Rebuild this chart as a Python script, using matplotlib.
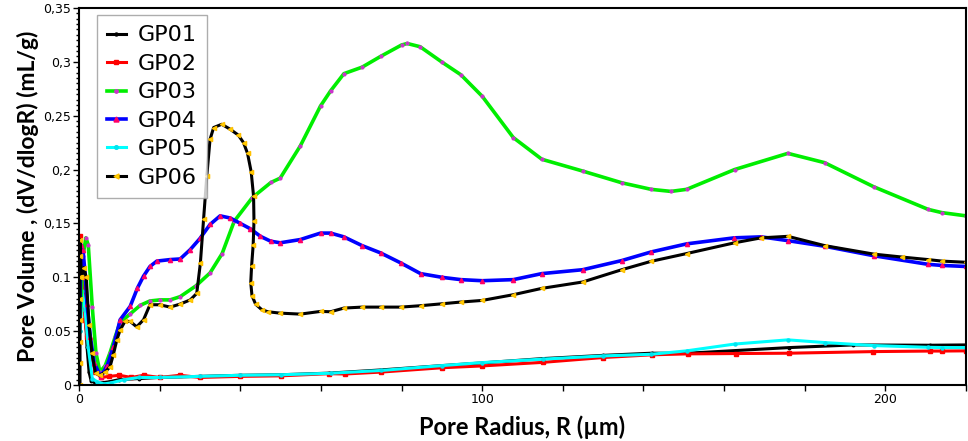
import numpy as np
import matplotlib
matplotlib.use("Agg")
import matplotlib.pyplot as plt
from matplotlib.ticker import FixedLocator, MultipleLocator

# digitised pore size distributions (x: pore radius in um, y: dV/dlogR in mL/g)
gp01_x = [0.2, 0.6, 1.0, 1.5, 2.0, 2.5, 3.0, 4.0, 5.5, 7.5, 10, 15, 20, 30, 40, 50, 62,
          75, 90, 100, 115, 130, 142, 151, 163, 176, 192, 211, 220]
gp01_y = [0.05, 0.1, 0.095, 0.07, 0.035, 0.012, 0.004, 0.002, 0.002, 0.003, 0.005, 0.006,
          0.007, 0.008, 0.009, 0.0095, 0.011, 0.014, 0.018, 0.0205, 0.0245, 0.0275, 0.0295,
          0.0295, 0.032, 0.0347, 0.0372, 0.0369, 0.0372]

gp02_x = [0.1, 0.3, 0.6, 1.0, 1.5, 2.0, 2.5, 3.2, 4.0, 5.5, 7.5, 10, 13, 16, 20, 25, 30,
          40, 50, 62, 66, 75, 90, 100, 115, 130, 142, 151, 163, 176, 197, 211, 214, 220]
gp02_y = [0.02, 0.138, 0.12, 0.09, 0.06, 0.045, 0.04, 0.025, 0.012, 0.007, 0.008, 0.009,
          0.007, 0.009, 0.007, 0.009, 0.007, 0.008, 0.0085, 0.0105, 0.0102, 0.012, 0.016,
          0.0177, 0.021, 0.0255, 0.028, 0.0289, 0.0292, 0.0295, 0.031, 0.0315, 0.0315, 0.0317]

gp03_x = [0.3, 1.0, 1.7, 2.3, 3.3, 4.2, 5.2, 6.5, 7.7, 9, 10.2, 12.7, 15.2, 17.6, 20.1,
          22.6, 25.1, 29, 32.5, 35.5, 38.5, 43, 47.6, 49.9, 54.9, 59.9, 62.4, 65.7, 70.2,
          74.8, 80, 81.4, 84.6, 90.1, 94.7, 100, 107.7, 114.8, 124.9, 134.6, 141.9, 146.8,
          150.7, 162.6, 175.8, 184.9, 197.1, 210.6, 214, 220]
gp03_y = [0.06, 0.12, 0.1366, 0.13, 0.072, 0.03, 0.012, 0.018, 0.03, 0.045, 0.058, 0.066,
          0.074, 0.078, 0.079, 0.079, 0.082, 0.092, 0.104, 0.122, 0.152, 0.174, 0.188, 0.192,
          0.222, 0.259, 0.273, 0.289, 0.295, 0.305, 0.3156, 0.317, 0.314, 0.2995, 0.288,
          0.268, 0.2297, 0.2095, 0.1986, 0.1877, 0.1816, 0.1797, 0.1816, 0.200, 0.215,
          0.2064, 0.184, 0.163, 0.16, 0.157]

gp04_x = [0.2, 0.5, 1.0, 1.6, 2.0, 2.8, 3.8, 5.4, 7.0, 8.5, 10.2, 12.7, 14.5, 16, 17.6,
          19.3, 22.6, 25.1, 27.6, 30, 32.5, 35, 37.5, 40, 42.5, 45, 47.5, 49.9, 54.9, 59.9,
          62.4, 65.7, 70.2, 74.8, 79.8, 84.7, 90.1, 94.7, 100, 107.7, 114.8, 124.9, 134.6,
          141.9, 150.7, 162.5, 169.2, 175.8, 184.9, 197.1, 210.6, 214, 220]
gp04_y = [0.06, 0.13, 0.125, 0.1, 0.075, 0.045, 0.02, 0.0078, 0.018, 0.035, 0.0605, 0.073,
          0.09, 0.101, 0.11, 0.115, 0.1164, 0.117, 0.1257, 0.136, 0.149, 0.157, 0.155, 0.150,
          0.145, 0.138, 0.1335, 0.132, 0.135, 0.141, 0.141, 0.1375, 0.1294, 0.1226, 0.1133,
          0.1034, 0.0999, 0.0978, 0.0968, 0.0978, 0.1034, 0.107, 0.1155, 0.1235, 0.131,
          0.1366, 0.1375, 0.134, 0.1288, 0.120, 0.112, 0.111, 0.110]

gp05_x = [0.3, 0.8, 1.5, 2.3, 3.3, 4.5, 6.2, 8, 11.2, 15, 20, 30, 40, 50, 62.4, 75, 90,
          100, 115, 130, 141.9, 150.7, 162.6, 175.8, 184.9, 197.1, 210.6, 214, 220]
gp05_y = [0.05, 0.087, 0.07, 0.035, 0.006, 0.003, 0.001, 0.002, 0.005, 0.007, 0.007, 0.008,
          0.009, 0.0095, 0.0109, 0.0135, 0.018, 0.0208, 0.024, 0.027, 0.0285, 0.0317, 0.038,
          0.0419, 0.0394, 0.0366, 0.035, 0.0348, 0.0347]

gp06_x = [0.25, 0.25, 0.25, 0.25, 0.25, 0.25, 0.25, 0.25, 0.6, 1.2, 1.8, 2.5, 3.2, 4.1,
          5.2, 6.5, 7.7, 8.5, 9.4, 10.2, 11.4, 12.7, 14.3, 16, 17.6, 20, 22.6, 25, 27.6,
          29.2, 30.1, 30.9, 31.7, 32.5, 33.4, 35.4, 37.5, 39.5, 40.8, 41.8, 42.7, 43.3, 43.4,
          43.2, 42.8, 42.6, 42.9, 43.8, 45.3, 46.8, 49.9, 54.9, 59.9, 62.4, 65.7, 70.2, 74.8,
          79.8, 84.7, 90.1, 94.7, 100, 107.7, 114.8, 124.9, 134.6, 141.9, 150.7, 162.6,
          169.2, 175.8, 184.9, 197.1, 204, 210.6, 214, 220]
gp06_y = [0.0, 0.02, 0.04, 0.06, 0.08, 0.1, 0.12, 0.135, 0.1, 0.109, 0.1, 0.056, 0.03,
          0.011, 0.009, 0.012, 0.017, 0.028, 0.042, 0.051, 0.059, 0.059, 0.054, 0.0605,
          0.0745, 0.0745, 0.0723, 0.075, 0.079, 0.085, 0.113, 0.154, 0.194, 0.228, 0.239,
          0.242, 0.2374, 0.232, 0.225, 0.215, 0.198, 0.175, 0.152, 0.13, 0.11, 0.095, 0.083,
          0.075, 0.07, 0.068, 0.0667, 0.0658, 0.0683, 0.068, 0.0714, 0.0723, 0.0723, 0.0723,
          0.0736, 0.0754, 0.077, 0.0785, 0.0838, 0.0897, 0.0956, 0.107, 0.1148, 0.122,
          0.132, 0.1366, 0.138, 0.1294, 0.1215, 0.1188, 0.1164, 0.115, 0.1139]

labels = ["GP01", "GP02", "GP03", "GP04", "GP05", "GP06"]

y_ticks = [0, 0.05, 0.1, 0.15, 0.2, 0.25, 0.3, 0.35]
y_tick_labels = ["0", "0.05", "0.1", "0,15", "0,2", "0,25", "0,3", "0,35"]
x_ticks = [0, 20, 40, 60, 80, 100, 120, 140, 160, 180, 200, 220]
x_tick_labels = ["0", "", "", "", "", "100", "", "", "", "", "200", ""]

fig = plt.figure(figsize=(9.68, 4.41), dpi=100)
ax = fig.add_axes([0.0816, 0.127, 0.9164, 0.855])

ax.plot(gp01_x, gp01_y, color="black", lw=2.2, marker="o", ms=1.8,
        mfc="black", mec="black", label=labels[0])
ax.plot(gp02_x, gp02_y, color="#ff0000", lw=2.2, marker="s", ms=3,
        mfc="#ff0000", mec="#ff0000", label=labels[1])
ax.plot(gp05_x, gp05_y, color="#00ffff", lw=2.2, marker="o", ms=2.2,
        mfc="#00e5f0", mec="#00e5f0", label=labels[4])
ax.plot(gp03_x, gp03_y, color="#00ee00", lw=2.6, marker="o", ms=2.0,
        mfc="#cc33cc", mec="#cc33cc", label=labels[2])
ax.plot(gp04_x, gp04_y, color="#0000ff", lw=2.6, marker="^", ms=3,
        mfc="#ff0066", mec="#ff0066", label=labels[3])
ax.plot(gp06_x, gp06_y, color="black", lw=2.2, marker="<", ms=3,
        mfc="#ffdd00", mec="#ffc000", label=labels[5])

ax.set_xlim(0, 220)
ax.set_ylim(0, 0.35)

ax.xaxis.set_major_locator(FixedLocator(x_ticks))
ax.set_xticklabels(x_tick_labels)
ax.yaxis.set_major_locator(FixedLocator(y_ticks))
ax.set_yticklabels(y_tick_labels)
ax.yaxis.set_minor_locator(MultipleLocator(0.005))
ax.tick_params(axis="both", which="major", direction="out", length=4, width=1,
               labelsize=9, pad=1.5)
ax.tick_params(axis="y", which="minor", direction="out", length=2.5, width=1)

for s in ax.spines.values():
    s.set_linewidth(1.5)
    s.set_color("black")

ax.set_xlabel("Pore Radius, R (µm)", fontsize=17, fontweight="bold",
              family=["Lato", "DejaVu Sans"], labelpad=7)
ax.set_ylabel("Pore Volume , (dV/dlogR) (mL/g)", fontsize=16.5, fontweight="bold",
              family=["Lato", "DejaVu Sans"], labelpad=3)

handles, labs = ax.get_legend_handles_labels()
order = [labs.index(l) for l in labels]
leg = ax.legend([handles[i] for i in order], [labs[i] for i in order],
                loc="upper left", bbox_to_anchor=(0.02, 0.98), borderaxespad=0,
                fontsize=16, frameon=True, fancybox=False, edgecolor="#999999",
                handlelength=0.85, handletextpad=0.55, labelspacing=0.38,
                borderpad=0.45, markerscale=1.2)
leg.get_frame().set_linewidth(1.0)

plt.savefig("out.png", dpi=100)
plt.close(fig)
